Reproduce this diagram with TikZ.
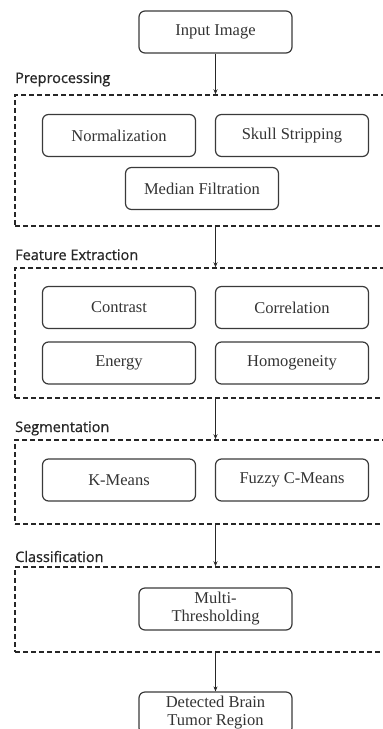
\documentclass[tikz,border=0pt]{standalone}
\usepackage{fontspec}
\setmainfont{Liberation Serif}
\newfontfamily\labelfont[FakeBold=0.8]{Open Sans}
\usetikzlibrary{positioning,arrows.meta}
\definecolor{boxline}{HTML}{3A3A3A}
\definecolor{boxtext}{HTML}{333333}

\begin{document}
\begin{tikzpicture}[
  x=1pt, y=-1pt,
  >={Stealth[length=5pt, width=4pt]},
  step box/.style={rounded corners=6pt, draw=boxline, line width=1.2pt, align=center,
             minimum width=153pt, minimum height=42pt, inner sep=2pt,
             text=boxtext, font=\fontsize{16.5}{18}\selectfont},
  stage/.style={draw=black!85, line width=1.5pt, dash pattern=on 5pt off 3pt,
             minimum width=380pt, inner sep=0pt},
  stagelbl/.style={anchor=base west, inner sep=0pt, text=black!85,
             font=\labelfont\fontsize{14.5}{17}\selectfont},
  flow/.style={->, line width=0.9pt, draw=black!85},
]
\useasboundingbox (0,0) rectangle (383,729);
\clip (0,0) rectangle (383,729);

% ---- Input ----
\node[step box] (in) at (215.5,32) {Input Image};

% ---- Preprocessing ----
\node[stage, minimum height=131pt] (pre) at (205,160.5) {};
\node[stagelbl] (prelbl) at (15,83) {Preprocessing};
\node[step box] (norm)  at (119,135.5) {Normalization};
\node[step box] (skull) at (292,135.5) {Skull Stripping};
\node[step box] (med)   at (202,188.5) {Median Filtration};

% ---- Feature extraction ----
\node[stage, minimum height=130pt] (feat) at (205,333) {};
\node[stagelbl] (featlbl) at (15,260) {Feature Extraction};
\node[step box] (con) at (119,307.5) {Contrast};
\node[step box] (cor) at (292,307.5) {Correlation};
\node[step box] (ene) at (119,363)   {Energy};
\node[step box] (hom) at (292,363)   {Homogeneity};

% ---- Segmentation ----
\node[stage, minimum height=84pt] (seg) at (205,482) {};
\node[stagelbl] (seglbl) at (15,432) {Segmentation};
\node[step box] (km)  at (119,480) {K-Means};
\node[step box] (fcm) at (292,480) {Fuzzy C-Means};

% ---- Classification ----
\node[stage, minimum height=85pt] (cls) at (205,609.5) {};
\node[stagelbl] (clslbl) at (15,562) {Classification};
\node[step box] (mt) at (215.5,609) {Multi-\\Thresholding};

% ---- Output ----
\node[step box] (det) at (215.5,713) {Detected Brain\\Tumor Region};

% ---- Flows ----
\draw[flow] (in.south) -- (in.south |- pre.north);
\draw[flow] (in.south |- pre.south) -- (in.south |- feat.north);
\draw[flow] (in.south |- feat.south) -- (in.south |- seg.north);
\draw[flow] (in.south |- seg.south) -- (in.south |- cls.north);
\draw[flow] (in.south |- cls.south) -- (det.north);
\end{tikzpicture}
\end{document}
